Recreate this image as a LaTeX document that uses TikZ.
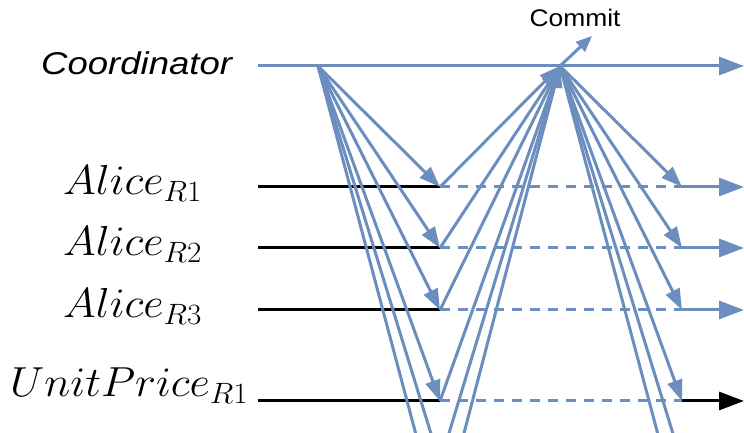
\RequirePackage{fix-cm}
\documentclass[tikz,border=0pt]{standalone}
\usepackage{fontspec}
\setsansfont{Liberation Sans}
\usetikzlibrary{arrows.meta}
\definecolor{bl}{HTML}{6C8EBF}
\begin{document}
\begin{tikzpicture}[x=1pt,y=1pt,
  msg/.style={draw=bl, line width=3pt, -{Triangle[length=21pt,width=15pt]}},
  msgh/.style={draw=bl, line width=3pt, -{Triangle[length=25pt,width=18pt]}},
  msgsmall/.style={draw=bl, line width=3pt, -{Triangle[length=16pt,width=13pt]}},
  blkh/.style={draw=black, line width=3pt, -{Triangle[length=25pt,width=18pt]}},
  blk/.style={draw=black, line width=3pt},
  dsh/.style={draw=bl, line width=3pt, dash pattern=on 10pt off 8pt},
  mathlbl/.style={anchor=base west, inner sep=0pt, font=\fontsize{42}{48}\selectfont},
]
\useasboundingbox (0,0) rectangle (744,433);
\clip (0,0) rectangle (744,433);
\coordinate (cs) at (258,367);
\coordinate (ce) at (744,367);
\coordinate (P) at (318,367);
\coordinate (Q) at (560,367);
\coordinate (cm) at (592,397);
\foreach \i/\y in {1/246,2/185,3/123,4/32,5/-30,6/-92}{
  \coordinate (s\i) at (258,\y);
  \coordinate (r\i) at (440,\y);
  \coordinate (c\i) at (682,\y);
  \coordinate (e\i) at (744,\y);
}
\foreach \i in {1,...,4}{
  \draw[blk] (s\i) -- (r\i);
  \draw[dsh] (r\i) -- (c\i);
}
\foreach \i in {1,...,3}{
  \draw[msgh] (c\i) -- (e\i);
}
\draw[blkh] (c4) -- (e4);
\draw[msgh] (cs) -- (ce);
\foreach \i in {1,...,6}{
  \draw[msg] (P) -- (r\i);
  \draw[msg] (r\i) -- (Q);
  \draw[msg] (Q) -- (c\i);
}
\draw[msgsmall] (Q) -- (cm);
\node[anchor=base west, inner sep=0pt, font=\sffamily\itshape\fontsize{31.5}{36}\selectfont] (lc) at (41,358) {\scalebox{1.16}[1]{Coordinator}};
\node[anchor=base, inner sep=0pt, font=\sffamily\fontsize{24}{28}\selectfont] (lcm) at (575,406) {\scalebox{1.1}[1]{Commit}};
\node[mathlbl] (la1) at (63,238) {\scalebox{1.06}[1]{$Alice_{R1}$}};
\node[mathlbl] (la2) at (63,177) {\scalebox{1.06}[1]{$Alice_{R2}$}};
\node[mathlbl] (la3) at (63,115) {\scalebox{1.06}[1]{$Alice_{R3}$}};
\node[mathlbl] (lu) at (10,36) {\scalebox{1.06}[1]{$UnitPrice_{R1}$}};
\end{tikzpicture}
\end{document}
